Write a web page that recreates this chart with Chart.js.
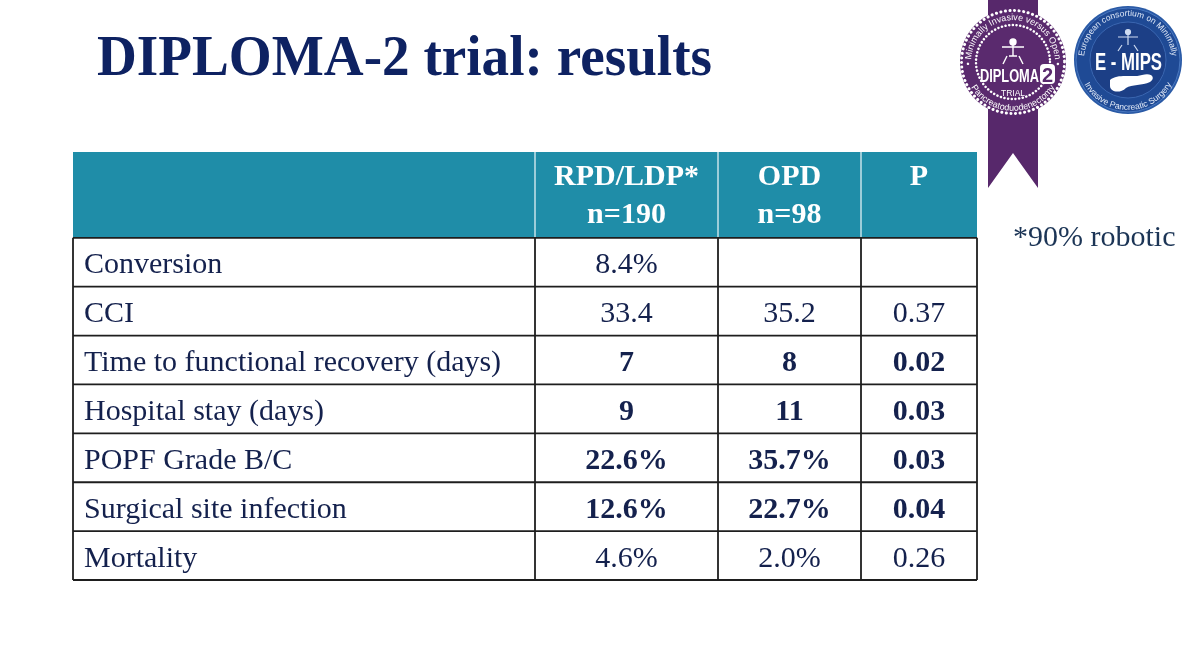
<!DOCTYPE html>
<html lang="en">
<head>
<meta charset="UTF-8" />
<title>DIPLOMA-2 trial: results</title>
<script src="https://cdn.jsdelivr.net/npm/chart.js"></script>
<style>
  html, body { margin: 0; padding: 0; background: #fff; overflow: hidden; }
  #wrap { position: relative; width: 1200px; height: 645px; }
  #tabla { position: absolute; left: 0; top: 0; }
  #logos { position: absolute; left: 0; top: 0; }
</style>
</head>
<body>
<div id="wrap">
  <canvas id="tabla" width="1200" height="645"></canvas>
  <svg id="logos" width="1200" height="645" viewBox="0 0 1200 645">
    <defs>
      <path id="dipTop" d="M 976.6 83 A 42 42 0 1 1 1049.4 83" />
      <path id="dipBot" d="M 967 78.7 A 49 49 0 0 0 1059 78.7" />
      <path id="emTop" d="M 1089.9 82 A 44 44 0 1 1 1166.1 82" />
      <path id="emBot" d="M 1081 77 A 50 50 0 0 0 1175 77" />
    </defs>
    <!-- Insignia DIPLOMA-2 -->
    <path d="M 988 0 L 1038 0 L 1038 188 L 1013 153 L 988 188 Z" fill="#57286b" />
    <circle cx="1013" cy="62" r="53" fill="#5a2a6e" />
    <circle cx="1013" cy="62" r="51.5" fill="none" stroke="#fff" stroke-width="3" stroke-dasharray="0.1 4.5" stroke-linecap="round" />
    <circle cx="1013" cy="62" r="37" fill="none" stroke="#fff" stroke-width="2.5" stroke-dasharray="0.1 3.6" stroke-linecap="round" />
    <text font-family="Liberation Sans, Arial" font-size="9" fill="#fff">
      <textPath href="#dipTop" startOffset="50%" text-anchor="middle">• Minimally Invasive versus Open •</textPath>
    </text>
    <text font-family="Liberation Sans, Arial" font-size="9" fill="#fff">
      <textPath href="#dipBot" startOffset="50%" text-anchor="middle">Pancreatoduodenectomy</textPath>
    </text>
    <g stroke="#fff" stroke-width="1.4" fill="none">
      <circle cx="1013" cy="42" r="3" fill="#fff" />
      <path d="M 1013 45 L 1013 56 M 1002 47 L 1024 47 M 1007 56 L 1003 64 M 1019 56 L 1023 64 M 1009 56 L 1017 56" />
    </g>
    <text x="980" y="82" textLength="59" lengthAdjust="spacingAndGlyphs" font-family="Liberation Sans, Arial" font-size="19" font-weight="bold" fill="#fff">DIPLOMA</text>
    <rect x="1040" y="64" width="15" height="20" rx="4" fill="#fff" />
    <text x="1047.5" y="82" text-anchor="middle" font-family="Liberation Sans, Arial" font-size="20" font-weight="bold" fill="#5a2a6e">2</text>
    <text x="1013" y="96" text-anchor="middle" font-family="Liberation Sans, Arial" font-size="8.5" fill="#fff">TRIAL</text>

    <!-- Insignia E-MIPS -->
    <circle cx="1128" cy="60" r="54" fill="#2a5aa6" />
    <circle cx="1128" cy="60" r="52" fill="#1f4a95" stroke="#4a78c0" stroke-width="1" />
    <circle cx="1128" cy="60" r="38" fill="#1c3f86" stroke="#3a66b0" stroke-width="1" />
    <text font-family="Liberation Sans, Arial" font-size="8.5" fill="#dfe8f7">
      <textPath href="#emTop" startOffset="50%" text-anchor="middle">European consortium on Minimally</textPath>
    </text>
    <text font-family="Liberation Sans, Arial" font-size="8.5" fill="#dfe8f7">
      <textPath href="#emBot" startOffset="50%" text-anchor="middle">Invasive Pancreatic Surgery</textPath>
    </text>
    <g stroke="#cfdcf2" stroke-width="1.2" fill="none">
      <circle cx="1128" cy="32" r="2.5" fill="#cfdcf2" />
      <path d="M 1128 35 L 1128 45 M 1118 37 L 1138 37 M 1122 45 L 1118 51 M 1134 45 L 1138 51" />
    </g>
    <text x="1095" y="70" textLength="67" lengthAdjust="spacingAndGlyphs" font-family="Liberation Sans, Arial" font-size="23" font-weight="bold" fill="#fff">E - MIPS</text>
    <path d="M 1110 80 C 1118 73, 1132 78, 1142 75 C 1152 72, 1156 78, 1150 82 C 1142 86, 1132 84, 1126 88 C 1120 94, 1110 92, 1110 86 Z" fill="#fff" />
  </svg>
</div>

<script>
  // Datos de la tabla
  const rowLabels = [
    "Conversion",
    "CCI",
    "Time to functional recovery (days)",
    "Hospital stay (days)",
    "POPF Grade B/C",
    "Surgical site infection",
    "Mortality"
  ];
  const groupHeaders = [["RPD/LDP*", "n=190"], ["OPD", "n=98"], ["P"]];
  const rpdValues = ["8.4%", "33.4", "7", "9", "22.6%", "12.6%", "4.6%"];
  const opdValues = ["", "35.2", "8", "11", "35.7%", "22.7%", "2.0%"];
  const pValues = ["", "0.37", "0.02", "0.03", "0.03", "0.04", "0.26"];
  const significant = [false, false, true, true, true, true, false];

  // Layout de la tabla (unidades de las escalas)
  const colEdges = [0, 462, 645, 788, 904];
  const headerSpan = 86 / 49;
  const navy = "#14214d";
  const serif = "'Liberation Serif', 'Times New Roman', serif";

  // Plugin que dibuja la tabla usando las escalas de Chart.js
  const tablaPlugin = {
    id: "tabla",
    afterDraw(chart) {
      const ctx = chart.ctx;
      const xs = chart.scales.x;
      const ys = chart.scales.y;
      const px = v => xs.getPixelForValue(v);
      const py = v => ys.getPixelForValue(v);
      const nRows = rowLabels.length;
      const columns = [rowLabels, rpdValues, opdValues, pValues];

      ctx.save();

      // Título
      ctx.save();
      ctx.fillStyle = "#0e2262";
      ctx.font = "bold 57px " + serif;
      ctx.textAlign = "left";
      ctx.textBaseline = "alphabetic";
      ctx.translate(97, 75);
      ctx.scale(0.968, 1);
      ctx.fillText("DIPLOMA-2 trial: results", 0, 0);
      ctx.restore();

      // Nota
      ctx.fillStyle = "#1c3556";
      ctx.font = "30px " + serif;
      ctx.textAlign = "left";
      ctx.fillText("*90% robotic", 1013, 246);

      // Cabecera
      ctx.fillStyle = "#1f8da8";
      ctx.fillRect(px(colEdges[0]), py(0), px(colEdges[4]) - px(colEdges[0]), py(headerSpan) - py(0));
      ctx.strokeStyle = "rgba(255,255,255,0.75)";
      ctx.lineWidth = 1.5;
      for (let c = 1; c < colEdges.length - 1; c++) {
        ctx.beginPath();
        ctx.moveTo(px(colEdges[c]), py(0));
        ctx.lineTo(px(colEdges[c]), py(headerSpan));
        ctx.stroke();
      }
      ctx.fillStyle = "#ffffff";
      ctx.font = "bold 30px " + serif;
      ctx.textAlign = "center";
      groupHeaders.forEach((lines, i) => {
        const cx = (px(colEdges[i + 1]) + px(colEdges[i + 2])) / 2;
        lines.forEach((txt, j) => {
          ctx.fillText(txt, cx, py(0.68 + j * 0.78));
        });
      });

      // Filas
      for (let r = 0; r < nRows; r++) {
        const y0 = headerSpan + r;
        for (let c = 0; c < columns.length; c++) {
          const txt = columns[c][r];
          if (!txt) continue;
          ctx.fillStyle = navy;
          if (c === 0) {
            ctx.font = "30px " + serif;
            ctx.textAlign = "left";
            ctx.fillText(txt, px(colEdges[0]) + 11, py(y0 + 0.73));
          } else {
            ctx.font = (significant[r] ? "bold " : "") + "30px " + serif;
            ctx.textAlign = "center";
            ctx.fillText(txt, (px(colEdges[c]) + px(colEdges[c + 1])) / 2, py(y0 + 0.73));
          }
        }
      }

      // Bordes del cuerpo
      ctx.strokeStyle = "#1e1e1e";
      ctx.lineWidth = 1.8;
      for (let r = 0; r <= nRows; r++) {
        ctx.beginPath();
        ctx.moveTo(px(colEdges[0]), py(headerSpan + r));
        ctx.lineTo(px(colEdges[4]), py(headerSpan + r));
        ctx.stroke();
      }
      colEdges.forEach(e => {
        ctx.beginPath();
        ctx.moveTo(px(e), py(headerSpan));
        ctx.lineTo(px(e), py(headerSpan + nRows));
        ctx.stroke();
      });

      ctx.restore();
    }
  };

  new Chart(document.getElementById("tabla").getContext("2d"), {
    type: "scatter",
    data: { datasets: [] },
    options: {
      responsive: false,
      animation: false,
      layout: { padding: { left: 73, right: 223, top: 152, bottom: 65 } },
      plugins: { legend: { display: false }, tooltip: { enabled: false } },
      scales: {
        x: { type: "linear", min: colEdges[0], max: colEdges[colEdges.length - 1], display: false },
        y: { type: "linear", min: 0, max: headerSpan + rowLabels.length, reverse: true, display: false }
      }
    },
    plugins: [tablaPlugin]
  });
</script>
</body>
</html>
